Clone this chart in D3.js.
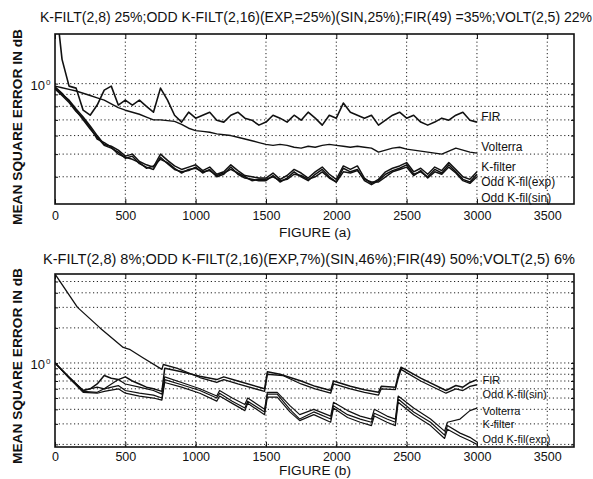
<!DOCTYPE html>
<html><head><meta charset="utf-8">
<script src="https://cdn.jsdelivr.net/npm/d3@7"></script>
<style>
body{margin:0;background:#fff}
text{font-family:"Liberation Sans",Arial,Helvetica,sans-serif;fill:#111}
</style>
</head><body>
<svg id="c" width="593" height="479"></svg>
<script>
// ---------- data ----------
const xTicks = [0, 500, 1000, 1500, 2000, 2500, 3000, 3500];
const sampleStep = 50; // top-panel series are sampled every 50 iterations, 0..3000

const titleA = "K-FILT(2,8) 25%;ODD K-FILT(2,16)(EXP,=25%)(SIN,25%);FIR(49) =35%;VOLT(2,5) 22%";
const titleB = "K-FILT(2,8) 8%;ODD K-FILT(2,16)(EXP,7%)(SIN,46%);FIR(49) 50%;VOLT(2,5) 6%";

// Panel (a)
const aFIR = [2.4,1.27,0.976,0.957,0.77,0.733,0.81,0.938,0.976,0.81,0.85,0.81,0.85,0.80,0.755,0.957,0.85,0.733,0.685,0.755,0.712,
  0.733,0.755,0.698,0.685,0.733,0.755,0.712,0.698,0.665,0.685,
  0.733,0.712,0.685,0.733,0.698,0.755,0.712,0.665,0.733,0.712,
  0.826,0.755,0.733,0.712,0.733,0.665,0.698,0.733,0.755,0.712,
  0.733,0.685,0.665,0.685,0.712,0.698,0.733,0.755,0.698,0.685];
const aVolterra = [0.976,0.96,0.945,0.93,0.91,0.89,0.87,0.85,0.82,0.79,0.77,0.755,0.74,0.72,0.70,0.70,0.695,0.69,0.67,0.645,0.63,
  0.625,0.62,0.61,0.605,0.60,0.59,0.58,0.57,0.56,0.55,
  0.545,0.55,0.545,0.535,0.53,0.54,0.535,0.545,0.55,0.545,
  0.54,0.535,0.54,0.535,0.53,0.51,0.52,0.53,0.535,0.525,
  0.52,0.515,0.51,0.505,0.50,0.515,0.53,0.52,0.51,0.505];
const aKfilter = [0.96,0.90,0.85,0.78,0.72,0.66,0.60,0.55,0.54,0.52,0.49,0.50,0.465,0.45,0.44,0.50,0.47,0.445,0.43,0.44,0.45,
  0.425,0.44,0.41,0.42,0.45,0.425,0.405,0.40,0.395,0.395,
  0.415,0.39,0.405,0.43,0.415,0.395,0.42,0.44,0.41,0.39,
  0.445,0.43,0.445,0.395,0.375,0.39,0.42,0.435,0.445,0.46,
  0.42,0.435,0.41,0.44,0.425,0.46,0.43,0.40,0.39,0.42];
const aOddExp = [0.97,0.91,0.84,0.77,0.70,0.64,0.59,0.545,0.53,0.51,0.48,0.49,0.455,0.44,0.43,0.485,0.455,0.43,0.42,0.425,0.44,
  0.415,0.43,0.40,0.41,0.44,0.41,0.395,0.39,0.385,0.385,
  0.405,0.38,0.395,0.42,0.40,0.385,0.41,0.43,0.40,0.38,
  0.435,0.42,0.43,0.385,0.37,0.385,0.41,0.425,0.435,0.45,
  0.41,0.42,0.40,0.43,0.415,0.45,0.42,0.39,0.38,0.41];
const aOddSin = [0.95,0.89,0.83,0.76,0.71,0.65,0.58,0.56,0.535,0.50,0.485,0.475,0.46,0.435,0.445,0.475,0.46,0.435,0.415,0.43,0.435,
  0.42,0.425,0.405,0.415,0.43,0.415,0.40,0.385,0.39,0.39,
  0.40,0.385,0.39,0.41,0.405,0.39,0.40,0.42,0.395,0.38,
  0.42,0.415,0.425,0.39,0.38,0.38,0.40,0.42,0.43,0.44,
  0.405,0.425,0.395,0.42,0.41,0.44,0.415,0.385,0.375,0.40];

// Panel (b)  (iteration, MSE) breakpoints
const bFIRx = [0,100,200,250,300,350,400,450,500,550,600,650,700,760,780,900,1030,1150,1200,1300,1490,1510,1600,1750,1850,1960,1980,2100,2200,2300,2320,2420,2440,2460,2600,2780,2850,2900,2950,3000];
const bFIRv = [1.0,0.75,0.58,0.6,0.66,0.78,0.74,0.72,0.76,0.7,0.66,0.62,0.6,0.57,0.9,0.84,0.77,0.72,0.76,0.7,0.6,0.84,0.8,0.7,0.63,0.58,0.7,0.63,0.59,0.56,0.63,0.62,0.78,0.92,0.74,0.58,0.64,0.62,0.68,0.72];
const bSinX = [0,160,320,485,535,625,760,770,870,1030,1150,1200,1300,1490,1510,1620,1750,1850,1960,1980,2100,2200,2300,2320,2420,2440,2460,2600,2780,2850,2900,2950,3000];
const bSinV = [5.8,3.0,2.0,1.36,1.3,1.11,0.88,0.97,0.9,0.75,0.68,0.72,0.66,0.57,0.8,0.78,0.66,0.6,0.55,0.66,0.6,0.56,0.53,0.6,0.59,0.74,0.88,0.7,0.55,0.6,0.58,0.63,0.65];
const bLowX = [0,100,200,300,350,450,500,600,700,760,780,900,1030,1150,1170,1260,1350,1370,1490,1510,1580,1670,1740,1840,1960,1980,2080,2170,2250,2270,2360,2420,2440,2550,2670,2770,2790,2880,2950,3000];
const bVolterraV = [1.0,0.76,0.58,0.62,0.6,0.72,0.66,0.62,0.58,0.54,0.76,0.68,0.6,0.52,0.58,0.5,0.44,0.5,0.4,0.56,0.56,0.43,0.36,0.4,0.35,0.46,0.39,0.35,0.33,0.4,0.35,0.33,0.52,0.41,0.33,0.26,0.31,0.33,0.39,0.41];
const bKfilterV = [1.0,0.75,0.57,0.56,0.6,0.64,0.58,0.55,0.53,0.5,0.72,0.65,0.58,0.5,0.55,0.47,0.41,0.47,0.38,0.54,0.54,0.40,0.33,0.38,0.33,0.43,0.36,0.33,0.31,0.37,0.33,0.31,0.49,0.38,0.31,0.24,0.29,0.25,0.23,0.21];
const bOddExpV = [1.0,0.74,0.56,0.55,0.57,0.6,0.55,0.52,0.5,0.48,0.68,0.62,0.55,0.47,0.52,0.45,0.39,0.45,0.36,0.51,0.51,0.38,0.32,0.36,0.31,0.41,0.34,0.31,0.29,0.35,0.31,0.29,0.46,0.36,0.29,0.225,0.27,0.235,0.215,0.20];

const aGrid = [0.4,0.5,0.6,0.7,0.8,0.9,1];
const bGrid = [0.2,0.3,0.4,0.5,0.6,0.7,0.8,0.9,1,2,3,4,5];

const aLabels = [["FIR",0.72],["Volterra",0.535],["K-filter",0.44],["Odd K-fil(exp)",0.38],["Odd K-fil(sin)",0.324]];
const bLabels = [["FIR",0.715],["Odd K-fil(sin)",0.535],["Volterra",0.385],["K-filter",0.298],["Odd K-fil(exp)",0.224]];

// ---------- drawing ----------
const svg = d3.select("#c");
const sampled = arr => arr.map((v,i)=>[i*sampleStep, v]);
const paired = (xs, vs) => xs.map((x,i)=>[x, vs[i]]);

function panel(cfg){
  const x = d3.scaleLinear().domain([0,3690]).range([55,574]);
  const y = d3.scaleLog().domain(cfg.yDom).range([cfg.bottom, cfg.top]);
  const g = svg.append("g");
  const cid = "clip"+cfg.id;
  svg.append("clipPath").attr("id",cid).append("rect")
    .attr("x",55).attr("y",cfg.top).attr("width",519).attr("height",cfg.bottom-cfg.top);

  // grid
  g.selectAll(".vg").data(xTicks.slice(1)).join("line")
    .attr("x1",d=>x(d)).attr("x2",d=>x(d)).attr("y1",cfg.top).attr("y2",cfg.bottom)
    .attr("stroke","#222").attr("stroke-width",1).attr("stroke-dasharray","1.2,2.6");
  g.selectAll(".hg").data(cfg.grid).join("line")
    .attr("x1",55).attr("x2",574).attr("y1",d=>y(d)).attr("y2",d=>y(d))
    .attr("stroke","#222").attr("stroke-width",1).attr("stroke-dasharray","1.2,2.6");

  // axes (inward ticks)
  const xb = g.append("g").attr("transform",`translate(0,${cfg.bottom})`)
    .call(d3.axisBottom(x).tickValues(xTicks).tickSize(-5).tickPadding(cfg.tickPad).tickFormat(d3.format("d")));
  xb.select(".domain").remove();
  xb.selectAll("text").attr("font-size",12.5).attr("fill","#111");
  const xt = g.append("g").attr("transform",`translate(0,${cfg.top})`)
    .call(d3.axisTop(x).tickValues(xTicks).tickSize(-5).tickFormat(""));
  xt.select(".domain").remove();
  const yl = g.append("g").attr("transform","translate(55,0)")
    .call(d3.axisLeft(y).tickValues(cfg.grid).tickSize(-3).tickFormat(""));
  yl.select(".domain").remove();
  const yr = g.append("g").attr("transform","translate(574,0)")
    .call(d3.axisRight(y).tickValues(cfg.grid).tickSize(-3).tickFormat(""));
  yr.select(".domain").remove();
  g.selectAll(".tick line").attr("stroke","#111");

  g.append("text").attr("x",45).attr("y",y(1)+6).attr("text-anchor","end").attr("font-size",13).text("10");
  g.append("text").attr("x",46).attr("y",y(1)+1).attr("font-size",8).text("0");

  // series
  const line = d3.line().x(d=>x(d[0])).y(d=>y(d[1]));
  const lg = g.append("g").attr("clip-path",`url(#${cid})`);
  cfg.series.forEach(s=>{
    lg.append("path").attr("d",line(s.data)).attr("fill","none")
      .attr("stroke","#111").attr("stroke-width",s.w).attr("stroke-linejoin","round");
  });

  // frame
  g.append("rect").attr("x",55).attr("y",cfg.top).attr("width",519).attr("height",cfg.bottom-cfg.top)
    .attr("fill","none").attr("stroke","#111").attr("stroke-width",1.6);

  // curve labels
  g.selectAll(".cl").data(cfg.labels).join("text")
    .attr("x",x(cfg.labelX)).attr("y",d=>y(d[1])).attr("dy","0.35em")
    .attr("font-size",cfg.labelSize).text(d=>d[0]);

  // titles
  g.append("text").attr("x",cfg.titleX).attr("y",cfg.titleY).attr("font-size",14)
    .attr("textLength",cfg.titleLen).attr("lengthAdjust","spacingAndGlyphs").text(cfg.title);
  g.append("text").attr("x",315).attr("y",cfg.xlabY).attr("text-anchor","middle").attr("font-size",12)
    .attr("textLength",72).attr("lengthAdjust","spacingAndGlyphs").text(cfg.xlab);
  g.append("text").attr("transform",`translate(22,${cfg.ylabC}) rotate(-90)`).attr("text-anchor","middle")
    .attr("font-size",13).attr("font-weight","bold")
    .attr("textLength",196).attr("lengthAdjust","spacingAndGlyphs").text("MEAN SQUARE ERROR IN dB");
}

panel({id:"a", top:34, bottom:204, yDom:[0.306,1.63], grid:aGrid, tickPad:7,
  series:[
    {data:sampled(aFIR), w:1.6},
    {data:sampled(aVolterra), w:1.4},
    {data:sampled(aKfilter), w:1.5},
    {data:sampled(aOddExp), w:1.5},
    {data:sampled(aOddSin), w:1.5}
  ],
  labels:aLabels, labelX:3030, labelSize:12,
  title:titleA, titleX:40, titleY:22, titleLen:552,
  xlab:"FIGURE (a)", xlabY:237, ylabC:127});

panel({id:"b", top:274, bottom:447, yDom:[0.19,5.8], grid:bGrid, tickPad:5,
  series:[
    {data:paired(bFIRx,bFIRv), w:1.5},
    {data:paired(bSinX,bSinV), w:1.3},
    {data:paired(bLowX,bVolterraV), w:1.2},
    {data:paired(bLowX,bKfilterV), w:1.2},
    {data:paired(bLowX,bOddExpV), w:1.2}
  ],
  labels:bLabels, labelX:3040, labelSize:11,
  title:titleB, titleX:43, titleY:264, titleLen:532,
  xlab:"FIGURE (b)", xlabY:475, ylabC:366});
</script>
</body></html>
